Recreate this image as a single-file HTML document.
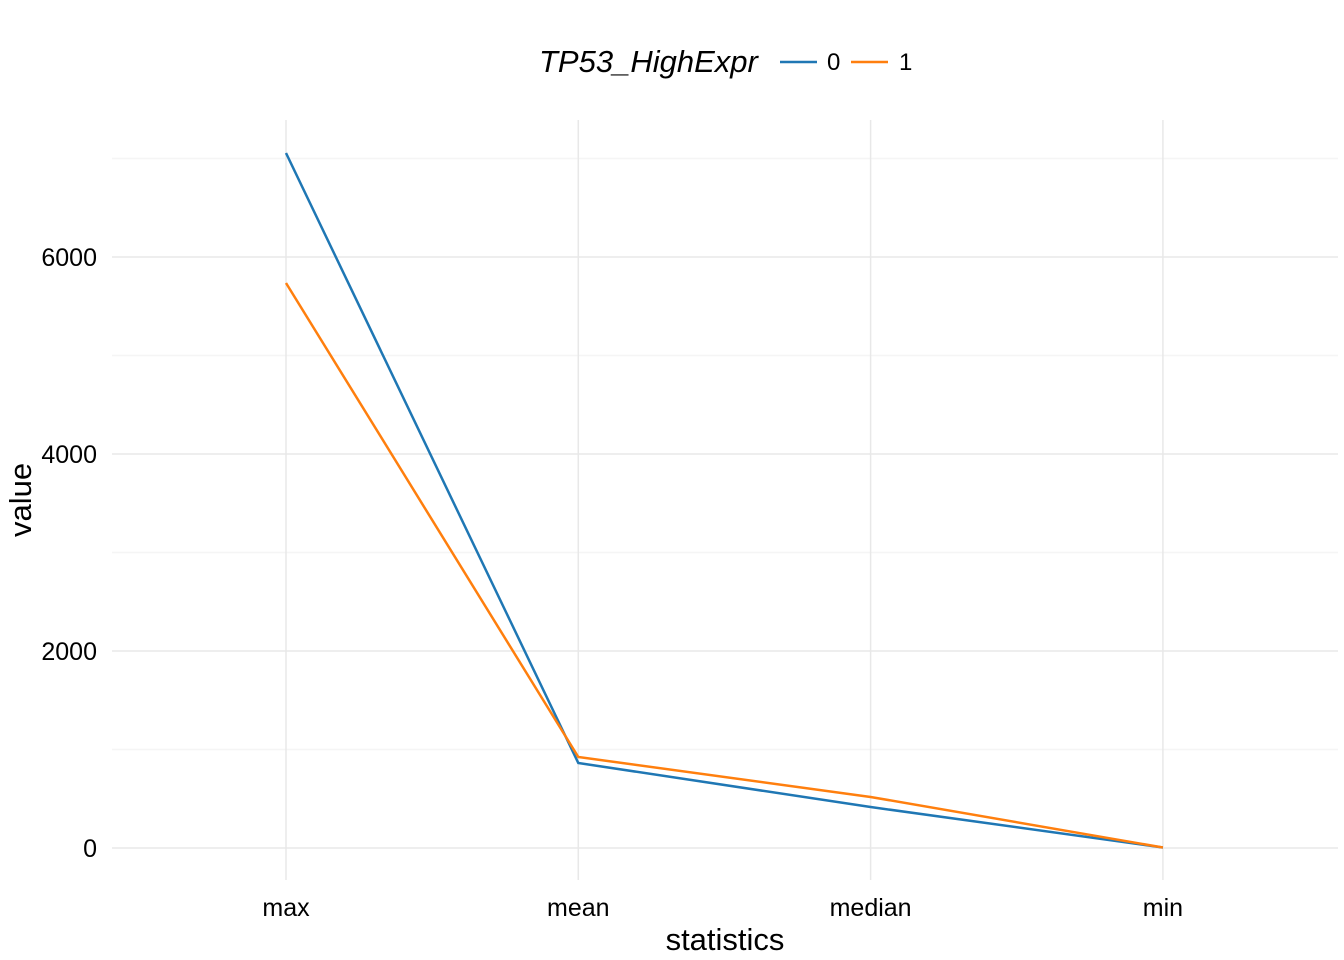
<!DOCTYPE html>
<html><head><meta charset="utf-8"><style>
body{margin:0;background:#fff;}
svg{display:block;font-family:"Liberation Sans",Arial,sans-serif;}
</style></head><body>
<svg id="chart" width="1344" height="960" viewBox="0 0 1344 960">
<g id="grid"></g>
<g id="yticks"></g>
<g id="xticks"></g>
<g id="lines"></g>
<text x="725" y="950" font-size="31" text-anchor="middle" fill="#000">statistics</text>
<text transform="translate(31,500) rotate(-90)" font-size="31" text-anchor="middle" fill="#000">value</text>
<g>
<text x="539" y="72" font-size="31" font-style="italic" fill="#000">TP53_HighExpr</text>
<line x1="780" y1="62" x2="817" y2="62" stroke="#1f77b4" stroke-width="2.5"/>
<text x="827" y="70" font-size="24" fill="#000">0</text>
<line x1="851" y1="62" x2="888" y2="62" stroke="#ff7f0e" stroke-width="2.5"/>
<text x="899" y="70" font-size="24" fill="#000">1</text>
</g>
</svg>
<script>
const categories=["max","mean","median","min"];
const series0=[7056,863,416,5];
const series1=[5736,924,518,5];
const yTicks=[0,2000,4000,6000];
const yMinor=[1000,3000,5000,7000];
const NS="http://www.w3.org/2000/svg";
function x(i){return 286+i*292.3;}
function y(v){return 848-v*0.0985;}
function mk(tag,attrs,parent){const e=document.createElementNS(NS,tag);for(const k in attrs)e.setAttribute(k,attrs[k]);parent.appendChild(e);return e;}
const grid=document.getElementById('grid');
yMinor.forEach(v=>{const l=mk('line',{x1:112,x2:1338,y1:y(v),y2:y(v),stroke:'#f5f5f5','stroke-width':1.5},grid);

});
yTicks.forEach(v=>{const l=mk('line',{x1:112,x2:1338,y1:y(v),y2:y(v),stroke:'#e8e8e8','stroke-width':1.5},grid);


const t=mk('text',{x:97,y:y(v)+9,'font-size':25,'text-anchor':'end',fill:'#000'},document.getElementById('yticks'));
t.textContent=v;

});
categories.forEach((c,i)=>{const l=mk('line',{x1:x(i),x2:x(i),y1:120,y2:880,stroke:'#e8e8e8','stroke-width':1.5},grid);


const t=mk('text',{x:x(i),y:916,'font-size':25,'text-anchor':'middle',fill:'#000'},document.getElementById('xticks'));
t.textContent=c;

});
[[series0,'#1f77b4','line-series-0'],[series1,'#ff7f0e','line-series-1']].forEach(([s,col,name])=>{
const p=mk('polyline',{points:s.map((v,i)=>x(i)+','+y(v)).join(' '),fill:'none',stroke:col,'stroke-width':2.5},document.getElementById('lines'));

});
</script>
</body></html>
